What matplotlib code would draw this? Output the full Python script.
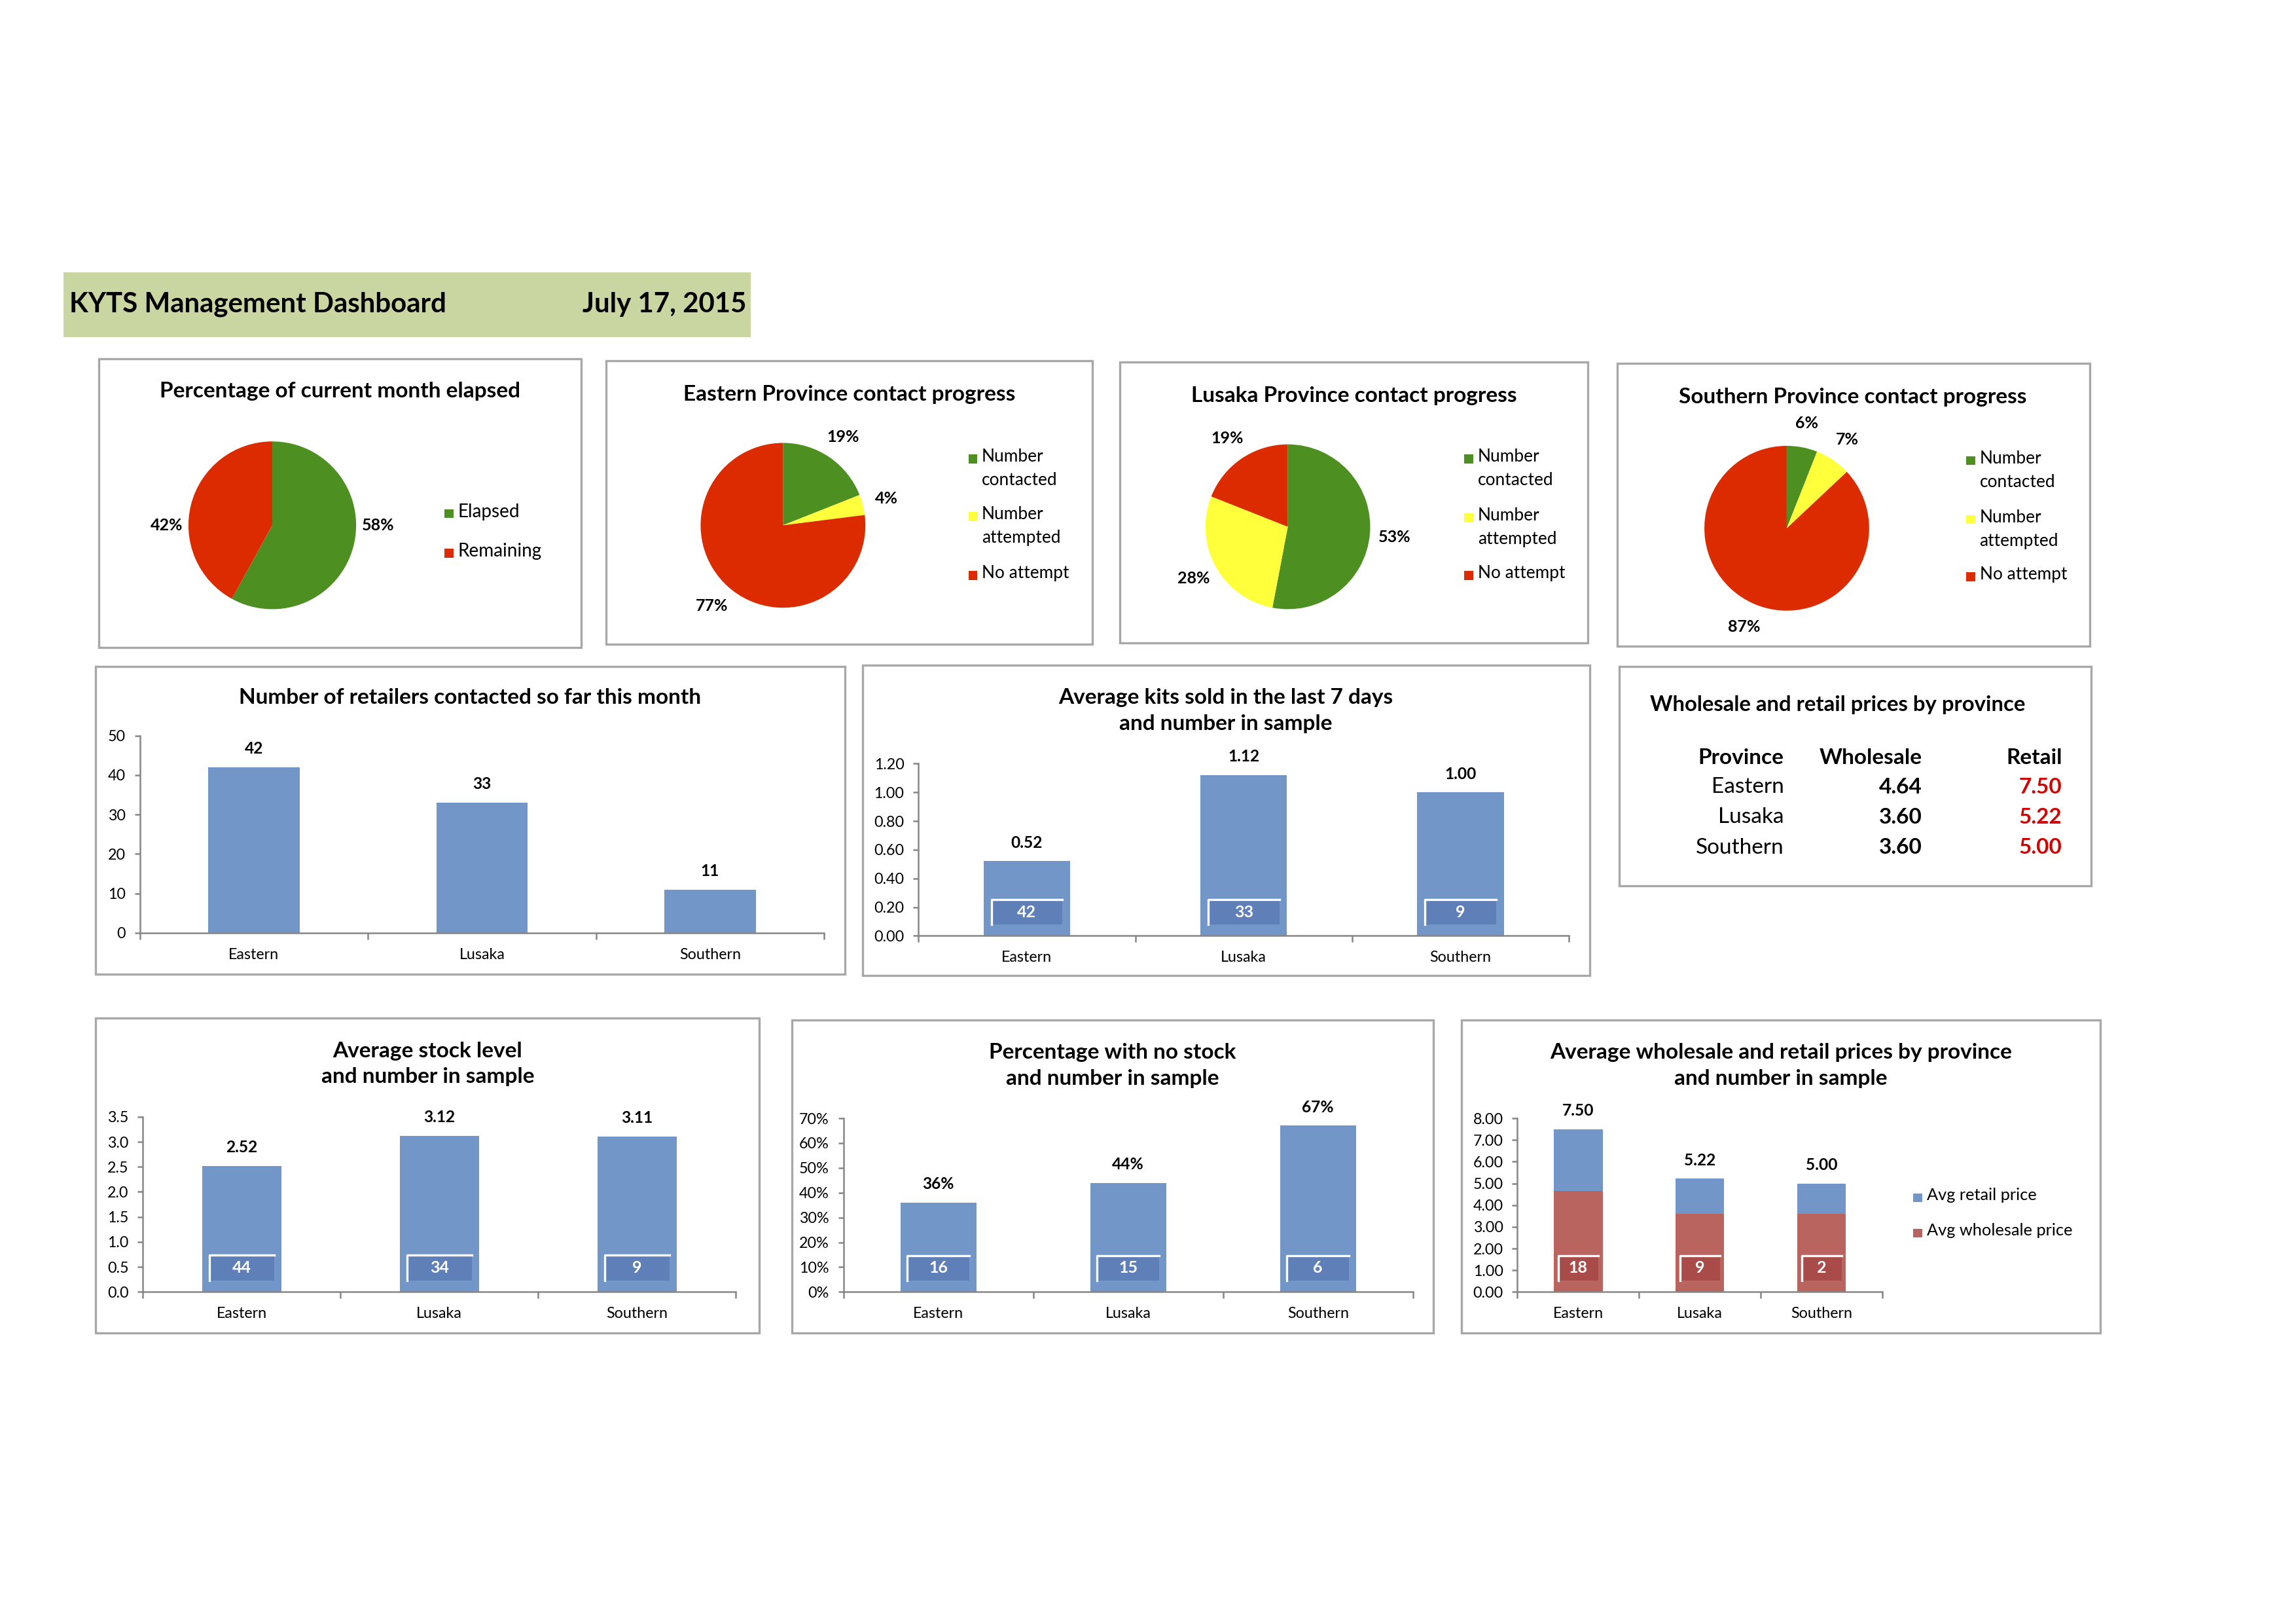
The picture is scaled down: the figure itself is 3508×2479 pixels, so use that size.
import matplotlib.pyplot as plt
from matplotlib.patches import Rectangle
from matplotlib.lines import Line2D
from matplotlib.transforms import blended_transform_factory
from matplotlib.ticker import MultipleLocator, FuncFormatter

plt.rcParams['font.family'] = ['Lato', 'DejaVu Sans']

# ── Data ─────────────────────────────────────────────────────────────────────
provinces = ['Eastern', 'Lusaka', 'Southern']

month_labels = ['Elapsed', 'Remaining']
month_share = [58, 42]

contact_labels = ['Number\ncontacted', 'Number\nattempted', 'No attempt']
eastern_contact = [19, 4, 77]
lusaka_contact = [53, 28, 19]
southern_contact = [6, 7, 87]

retailers_contacted = [42, 33, 11]

kits_sold = [0.52, 1.12, 1.00]
kits_n = [42, 33, 9]

stock_level = [2.52, 3.12, 3.11]
stock_n = [44, 34, 9]

no_stock_pct = [36, 44, 67]
no_stock_n = [16, 15, 6]

wholesale = [4.64, 3.60, 3.60]
retail = [7.50, 5.22, 5.00]
price_n = [18, 9, 2]
price_series = ['Avg retail price', 'Avg wholesale price']

# ── Colours ──────────────────────────────────────────────────────────────────
GREEN, YELLOW, RED = '#4e8f22', '#ffff3c', '#dd2b00'
BLUE, BLUE_DK = '#7396c8', '#5e7fb8'
ROSE, ROSE_DK = '#b9645f', '#a94c49'
AXIS = '#868686'
BORDER = '#a8a8a8'

# ── Layout helpers (reference laid out on a 1560 x 1103 grid) ────────────────
W, H = 1560, 1103
fig = plt.figure(figsize=(3508 / 300, 2479 / 300), dpi=300)


def fx(x):
    return x / W


def fy(y):
    return 1 - y / H


def box(x0, y0, x1, y1):
    return [fx(x0), fy(y1), (x1 - x0) / W, (y1 - y0) / H]


def panel(x0, y0, x1, y1):
    fig.add_artist(Rectangle((fx(x0), fy(y1)), (x1 - x0) / W, (y1 - y0) / H,
                             transform=fig.transFigure, fill=False,
                             ec=BORDER, lw=0.8))


def title(x, y, text, size=8.0):
    fig.text(fx(x), fy(y), text, ha='center', va='center', fontsize=size,
             fontweight='bold', linespacing=1.45)


def legend(x, ys, labels, colors, size):
    # Excel-style legend: square key lined up with the first text line
    for y, lab, col in zip(ys, labels, colors):
        fig.add_artist(Rectangle((fx(x), fy(y + 3)), 6 / W, 6 / H,
                                 transform=fig.transFigure, fc=col, ec='none'))
        fig.text(fx(x + 9), fy(y - 7), lab, ha='left', va='top',
                 fontsize=size, linespacing=1.55)


# ── Header ───────────────────────────────────────────────────────────────────
fig.add_artist(Rectangle((fx(43), fy(229)), (510 - 43) / W, (229 - 185) / H,
                         transform=fig.transFigure, fc='#c9d6a1', ec='none'))
fig.text(fx(47), fy(207), 'KYTS Management Dashboard', ha='left', va='center',
         fontsize=10.1, fontweight='bold')
fig.text(fx(507), fy(207), 'July 17, 2015', ha='right', va='center',
         fontsize=10.1, fontweight='bold')


# ── Pie panels ───────────────────────────────────────────────────────────────
def pie_panel(frame, ttl, ttl_xy, center, r, values, colors, labels,
              leg_x, leg_ys, leg_size, mid_labels=False):
    panel(*frame)
    title(ttl_xy[0], ttl_xy[1], ttl)
    cx, cy = center
    ax = fig.add_axes(box(cx - r, cy - r, cx + r, cy + r))
    ax.pie(values, colors=colors, startangle=90, counterclock=False,
           autopct=lambda p: f'{p:.0f}%', pctdistance=1.3,
           wedgeprops=dict(linewidth=0),
           textprops=dict(fontsize=6.0, fontweight='bold'))
    if mid_labels:
        for t in ax.texts:
            x, _ = t.get_position()
            t.set_position((x, 0))
    ax.set_xlim(-1, 1)
    ax.set_ylim(-1, 1)
    legend(leg_x, leg_ys, labels, colors, leg_size)


pie_panel((67, 244, 395, 440), 'Percentage of current month elapsed',
          (231, 266), (185, 357), 57, month_share, [GREEN, RED], month_labels,
          302, [349, 376], 6.7, mid_labels=True)
pie_panel((412, 245, 742, 438), 'Eastern Province contact progress',
          (577, 268), (532, 357), 56, eastern_contact, [GREEN, YELLOW, RED],
          contact_labels, 658, [312, 351, 391], 6.3)
pie_panel((761, 246, 1079, 437), 'Lusaka Province contact progress',
          (920, 269), (875, 358), 56, lusaka_contact, [GREEN, YELLOW, RED],
          contact_labels, 995, [312, 352, 391], 6.3)
pie_panel((1099, 247, 1420, 439), 'Southern Province contact progress',
          (1259, 270), (1214, 359), 56, southern_contact, [GREEN, YELLOW, RED],
          contact_labels, 1336, [313, 353, 392], 6.3)


# ── Bar panels ───────────────────────────────────────────────────────────────
def style_axes(ax, ymax, ystep, fmt):
    ax.set_xlim(-0.5, 2.5)
    ax.set_ylim(0, ymax)
    ax.spines[['top', 'right']].set_visible(False)
    for s in ['left', 'bottom']:
        ax.spines[s].set_color(AXIS)
        ax.spines[s].set_linewidth(0.6)
    ax.set_xticks(range(len(provinces)), provinces)
    ax.set_xticks([-0.5, 0.5, 1.5, 2.5], minor=True)
    ax.tick_params(axis='x', which='major', length=0, labelsize=5.6, pad=5.5)
    ax.tick_params(axis='x', which='minor', length=2.5, width=0.6, color=AXIS)
    ax.yaxis.set_major_locator(MultipleLocator(ystep))
    ax.yaxis.set_major_formatter(FuncFormatter(fmt))
    ax.tick_params(axis='y', length=2, width=0.6, color=AXIS, labelsize=5.6,
                   pad=3.2)
    ax.patch.set_alpha(0)


def sample_boxes(ax, counts, width, face):
    tr = blended_transform_factory(ax.transData, ax.transAxes)
    bw = width * 0.82
    for i, n in enumerate(counts):
        x0 = i - bw / 2
        ax.add_patch(Rectangle((x0, 0.065), bw, 0.145, transform=tr,
                               fc=face, ec='none', zorder=3))
        ax.add_line(Line2D([x0, x0, x0 + bw], [0.065, 0.21, 0.21],
                           transform=tr, color='white', lw=0.8, zorder=4))
        ax.text(i, 0.1375, str(n), transform=tr, ha='center', va='center',
                color='white', fontsize=6.0, fontweight='bold', zorder=5)


def bar_panel(frame, ttl, ttl_y, axes_frame, values, ymax, ystep, fmt,
              label_fmt, counts=None):
    panel(*frame)
    title((frame[0] + frame[2]) / 2, ttl_y, ttl)
    ax = fig.add_axes(box(*axes_frame))
    bars = ax.bar(range(len(provinces)), values, width=0.4, color=BLUE,
                  zorder=2)
    ax.bar_label(bars, labels=[label_fmt(v) for v in values], padding=4,
                 fontsize=5.9, fontweight='bold')
    style_axes(ax, ymax, ystep, fmt)
    if counts is not None:
        sample_boxes(ax, counts, 0.4, BLUE_DK)
    return ax


bar_panel((65, 453, 574, 662), 'Number of retailers contacted so far this month',
          474, (95, 500, 560, 634), retailers_contacted, 50, 10,
          lambda v, _: f'{v:.0f}', lambda v: f'{v:.0f}')
bar_panel((586, 452, 1080, 663),
          'Average kits sold in the last 7 days\nand number in sample',
          483, (624, 519, 1066, 636), kits_sold, 1.2, 0.2,
          lambda v, _: f'{v:.2f}', lambda v: f'{v:.2f}', kits_n)
bar_panel((65, 692, 516, 906), 'Average stock level\nand number in sample',
          723, (97, 759, 500, 878), stock_level, 3.5, 0.5,
          lambda v, _: f'{v:.1f}', lambda v: f'{v:.2f}', stock_n)
bar_panel((538, 693, 974, 906), 'Percentage with no stock\nand number in sample',
          724, (573, 760, 960, 878), no_stock_pct, 70, 10,
          lambda v, _: f'{v:.0f}%', lambda v: f'{v:.0f}%', no_stock_n)

# stacked price chart: retail bar with the wholesale part drawn over it
panel(993, 693, 1427, 906)
title(1210, 724, 'Average wholesale and retail prices by province\nand number in sample')
ax = fig.add_axes(box(1031, 760, 1279, 878))
x = range(len(provinces))
rb = ax.bar(x, retail, width=0.4, color=BLUE, zorder=2)
wb = ax.bar(x, wholesale, width=0.4, color=ROSE, zorder=2)
ax.bar_label(rb, labels=[f'{v:.2f}' for v in retail], padding=4,
             fontsize=5.9, fontweight='bold')
style_axes(ax, 8, 1, lambda v, _: f'{v:.2f}')
sample_boxes(ax, price_n, 0.4, ROSE_DK)
legend(1300, [814, 838], price_series, [BLUE, ROSE], 6.1)

# ── Price table ──────────────────────────────────────────────────────────────
panel(1100, 453, 1421, 602)
fig.text(fx(1121), fy(479), 'Wholesale and retail prices by province',
         ha='left', va='center', fontsize=7.9, fontweight='bold')
for xr, head in zip([1212, 1306, 1401], ['Province', 'Wholesale', 'Retail']):
    fig.text(fx(xr), fy(515), head, ha='right', va='center', fontsize=8.0,
             fontweight='bold')
for i, (p, w, r) in enumerate(zip(provinces, wholesale, retail)):
    yy = 535 + i * 20.5
    fig.text(fx(1212), fy(yy), p, ha='right', va='center', fontsize=8.0)
    fig.text(fx(1306), fy(yy), f'{w:.2f}', ha='right', va='center',
             fontsize=8.0, fontweight='bold')
    fig.text(fx(1401), fy(yy), f'{r:.2f}', ha='right', va='center',
             fontsize=8.0, fontweight='bold', color='#d40000')

fig.savefig('out.png', dpi=300, facecolor='white')
